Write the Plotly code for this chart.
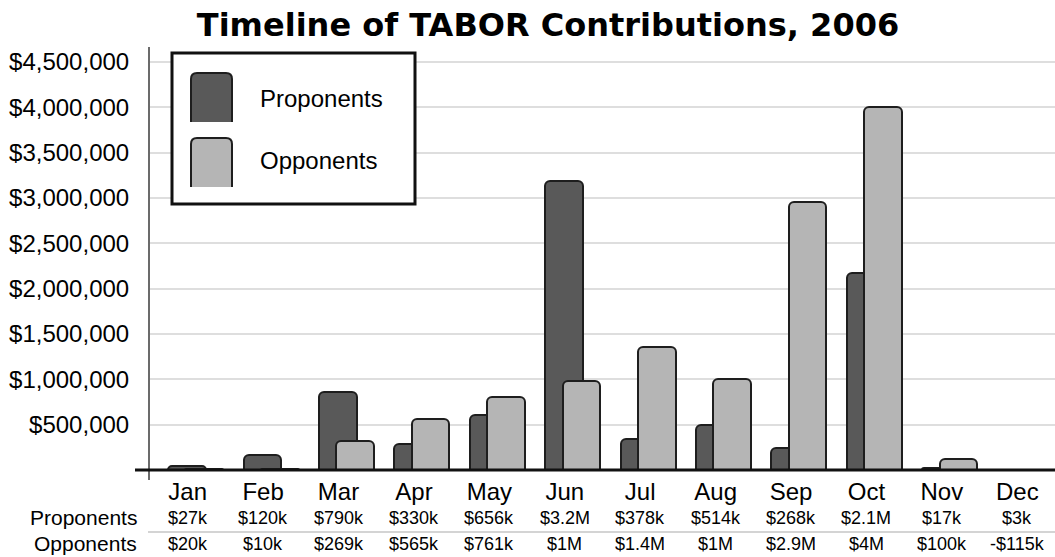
import plotly.graph_objects as go

# ---------------- data ----------------
months = ["Jan", "Feb", "Mar", "Apr", "May", "Jun", "Jul", "Aug", "Sep", "Oct", "Nov", "Dec"]
proponents = [40000, 165000, 865000, 287000, 607000, 3190000, 340000, 500000, 246000, 2170000, 25000, 5000]
opponents = [12000, 8000, 320000, 560000, 800000, 980000, 1360000, 1000000, 2960000, 4000000, 120000, 4000]
proponent_labels = ["$27k", "$120k", "$790k", "$330k", "$656k", "$3.2M", "$378k", "$514k", "$268k", "$2.1M", "$17k", "$3k"]
opponent_labels = ["$20k", "$10k", "$269k", "$565k", "$761k", "$1M", "$1.4M", "$1M", "$2.9M", "$4M", "$100k", "-$115k"]
y_tickvals = [500000, 1000000, 1500000, 2000000, 2500000, 3000000, 3500000, 4000000, 4500000]
y_ticktext = ["$500,000", "$1,000,000", "$1,500,000", "$2,000,000", "$2,500,000",
              "$3,000,000", "$3,500,000", "$4,000,000", "$4,500,000"]
series_names = ["Proponents", "Opponents"]
title_text = "Timeline of TABOR Contributions, 2006"

# ---------------- layout geometry ----------------
W, H = 1055, 557
ML, MR, MT, MB = 150, 0, 47, 77
PW, PH = W - ML - MR, H - MT - MB
FONT = "Liberation Sans, Arial, Helvetica, sans-serif"
DARK = "#595959"
LIGHT = "#b5b5b5"
EDGE = "#1e1e1e"


def px(xp):
    return (xp - ML) / PW


def py(yp):
    return (H - MB - yp) / PH


fig = go.Figure()
fig.add_trace(go.Bar(
    x=months, y=proponents, name=series_names[0],
    marker=dict(color=DARK, line=dict(color=EDGE, width=2), cornerradius=5),
    width=0.5, offset=-0.26, showlegend=False,
))
fig.add_trace(go.Bar(
    x=months, y=opponents, name=series_names[1],
    marker=dict(color=LIGHT, line=dict(color=EDGE, width=2), cornerradius=5),
    width=0.5, offset=-0.03, showlegend=False,
))

shapes = []
annotations = []

# baseline at zero
shapes.append(dict(type="line", xref="paper", yref="y", x0=px(135), x1=1.0, y0=0, y1=0,
                   line=dict(color="#111111", width=3), layer="above"))
# separator between table rows
shapes.append(dict(type="line", xref="paper", yref="paper", x0=px(148), x1=1.0,
                   y0=py(532), y1=py(532), line=dict(color="#d4d4d4", width=2)))

# legend box
shapes.append(dict(type="rect", xref="paper", yref="paper", x0=px(172), x1=px(415),
                   y0=py(204), y1=py(53), line=dict(color="#111111", width=3),
                   fillcolor="white", layer="above"))
for i, (name, col) in enumerate(zip(series_names, [DARK, LIGHT])):
    top = 73 + i * 65
    bot = top + 49
    x0, x1 = 191, 232
    r = 6
    path = (f"M {px(x0)},{py(bot)} L {px(x0)},{py(top + r)} "
            f"Q {px(x0)},{py(top)} {px(x0 + r)},{py(top)} "
            f"L {px(x1 - r)},{py(top)} Q {px(x1)},{py(top)} {px(x1)},{py(top + r)} "
            f"L {px(x1)},{py(bot)}")
    shapes.append(dict(type="path", xref="paper", yref="paper", path=path,
                       fillcolor=col, line=dict(color=EDGE, width=2), layer="above"))
    annotations.append(dict(xref="paper", yref="paper", x=px(258), y=py(99 + i * 61),
                            text=name, showarrow=False, xanchor="left", yanchor="middle",
                            font=dict(family=FONT, size=24, color="black")))

# table rows
for i, (name, labels) in enumerate(zip(series_names, [proponent_labels, opponent_labels])):
    yrow = 517 + i * 26
    annotations.append(dict(xref="paper", yref="paper", x=px(139), y=py(yrow), text=name,
                            showarrow=False, xanchor="right", yanchor="middle",
                            font=dict(family=FONT, size=21, color="black")))
    for m, lab in zip(months, labels):
        annotations.append(dict(xref="x", yref="paper", x=m, y=py(yrow + 1), text=lab,
                                showarrow=False, xanchor="center", yanchor="middle",
                                font=dict(family=FONT, size=18, color="black")))

fig.update_layout(
    width=W, height=H,
    margin=dict(l=ML, r=MR, t=MT, b=MB, pad=0),
    paper_bgcolor="white", plot_bgcolor="white",
    barmode="overlay",
    title=dict(text=f"<b>{title_text}</b>", x=548 / W, xanchor="center",
               y=1 - 25 / H, yanchor="middle",
               font=dict(family="DejaVu Sans, sans-serif", size=32, color="black")),
    xaxis=dict(type="category", range=[-0.5, 11.5], showgrid=False, showline=False,
               ticks="", tickfont=dict(family=FONT, size=24, color="black"),
               ticklabelstandoff=-5),
    yaxis=dict(range=[-110000, 4665000], tickvals=y_tickvals, ticktext=y_ticktext,
               showgrid=True, gridcolor="#dedede", gridwidth=2, zeroline=False,
               showline=True, linecolor="#6b6b6b", linewidth=2, ticks="",
               ticklabelstandoff=14,
               tickfont=dict(family=FONT, size=24, color="black")),
    shapes=shapes, annotations=annotations,
    bargap=0,
)

fig.write_html("out.html", config={"displayModeBar": False},
               post_script="document.body.style.margin='0px';")
